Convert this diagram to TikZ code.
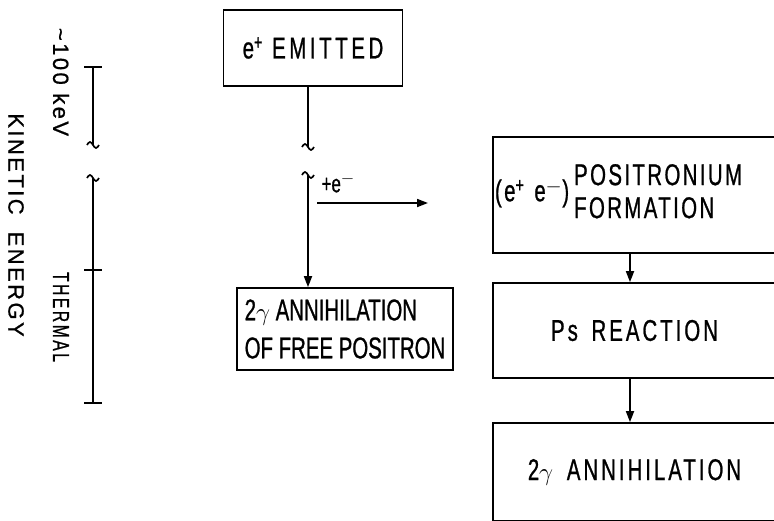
\documentclass[tikz,border=0pt]{standalone}
\usepackage{fontspec}
\setmainfont{Liberation Sans}[FakeStretch=0.68, FakeBold=0.8]
\newfontfamily\sidefont{Liberation Sans}[LetterSpace=11, FakeBold=0.8]
\usetikzlibrary{arrows.meta, positioning}

\tikzset{
  box/.style={draw, line width=1.7pt, inner sep=0pt},
  rule/.style={line width=1.7pt},
  flow/.style={line width=1.7pt, -{Triangle[length=11pt,width=8pt]}},
  big/.style={font=\fontsize{30}{37}\selectfont\addfontfeatures{LetterSpace=10}},
  side/.style={font=\fontsize{22}{24}\sidefont},
}
% little break mark (tilde) centred on a line end
\newcommand{\squig}[2]{\draw[rule] (#1-6,#2) sin ++(3,-3) cos ++(3,3) sin ++(3,3) cos ++(3,-3);}

\begin{document}
\begin{tikzpicture}[x=1pt, y=-1pt]
    \clip (0,0) rectangle (774,520);

    %% --- energy scale on the left ---
    \coordinate (t1) at (93,67);
    \coordinate (t2) at (93,145);
    \coordinate (t3) at (93,178);
    \coordinate (t4) at (93,270);
    \coordinate (t5) at (93,403);
    \draw[rule] (t1) -- (t2);
    \squig{93}{145}
    \squig{93}{178}
    \draw[rule] (t3) -- (t5);
    \draw[rule] ([xshift=-9pt]t1) -- ([xshift=9pt]t1);
    \draw[rule] ([xshift=-9pt]t4) -- ([xshift=9pt]t4);
    \draw[rule] ([xshift=-9pt]t5) -- ([xshift=9pt]t5);

    \node[side, rotate=-90] (kev) at (61,82) {\textasciitilde100 keV};
    \node[rotate=-90, font=\fontsize{23}{24}\selectfont\addfontfeatures{LetterSpace=11}]
        (therm) at (61,317) {THERMAL};
    \node[side, rotate=-90] (kin) at (16,225) {KINETIC\ \ ENERGY};

    %% --- boxes ---
    \node[box, font=\fontsize{30}{37}\selectfont\addfontfeatures{LetterSpace=12},
        minimum width=179, minimum height=76] (em) at (313,48) {e\textsuperscript{+} EMITTED};
    \node[box, font=\fontsize{30}{38}\selectfont, minimum width=216, minimum height=82,
        align=left]
        (fp) at (345,329) {2$\gamma$ ANNIHILATION\\OF FREE POSITRON};
    \node[box, font=\fontsize{30}{33}\selectfont\addfontfeatures{LetterSpace=8},
        minimum width=283, minimum height=116, text width=279, align=left]
        (pf) at (634.5,195) {(e\textsuperscript{+} e\textsuperscript{$-$})\,\begin{tabular}{@{}l@{}}POSITRONIUM\\FORMATION\end{tabular}};
    \node[box, big, minimum width=283, minimum height=95] (ps) at (634.5,330.5) {Ps\ \,REACTION};
    \node[box, big, minimum width=283, minimum height=98] (an) at (634.5,472) {2$\gamma$\, ANNIHILATION};

    %% --- connectors ---
    \coordinate (mx) at (308,0);
    \coordinate (b1) at (308,147);
    \coordinate (b2) at (308,175);
    \draw[rule] (em.south -| mx) -- (b1);
    \squig{308}{147}
    \squig{308}{175}
    \draw[flow] (b2) -- (fp.north -| mx);

    \coordinate (e1) at (317,203);
    \coordinate (e2) at (428,203);
    \draw[flow] (e1) -- (e2);
    \node[font=\fontsize{25}{26}\selectfont, anchor=south west] (plus) at (318,196) {+e\textsuperscript{$-$}};

    \coordinate (ax) at (630,0);
    \draw[flow] (pf.south -| ax) -- (ps.north -| ax);
    \draw[flow] (ps.south -| ax) -- (an.north -| ax);

\end{tikzpicture}
\end{document}
